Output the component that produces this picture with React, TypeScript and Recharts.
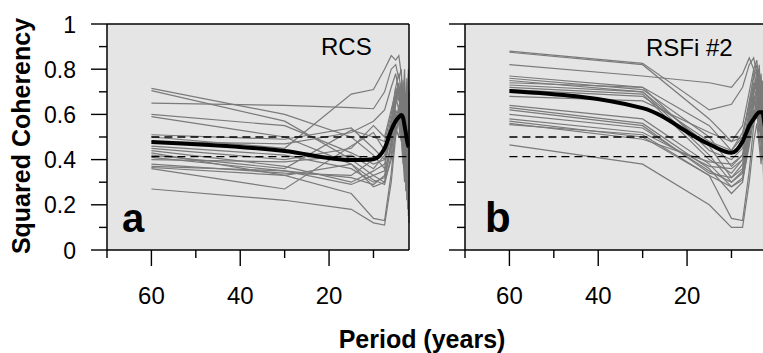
import React from 'react';
import { LineChart, Line, XAxis, YAxis, CartesianGrid } from 'recharts';

// spectral periods (years) at which coherency is estimated
const periods = [60, 30, 15, 10, 7.5, 6, 5, 4.29, 3.75, 3.33, 3, 2.73, 2.5, 2.31, 2.14, 2];

const xTicks = [70, 60, 50, 40, 30, 20, 10];
const xLabels = [60, 40, 20];
const xDomain = [2, 70];
const yTicks = [0, 0.1, 0.2, 0.3, 0.4, 0.5, 0.6, 0.7, 0.8, 0.9, 1];
const yLabels = [0, 0.2, 0.4, 0.6, 0.8, 1];
const yDomain = [0, 1];

// significance levels (dashed)
const sigHigh = 0.5;
const sigLow = 0.413;

// panel a: RCS, individual series
const rcsSeries = [
  [0.715, 0.6, 0.5, 0.42, 0.36, 0.55, 0.72, 0.78, 0.7, 0.55, 0.62, 0.4, 0.7, 0.35, 0.6, 0.45],
  [0.705, 0.57, 0.4, 0.33, 0.3, 0.48, 0.66, 0.73, 0.64, 0.72, 0.5, 0.66, 0.3, 0.58, 0.42, 0.52],
  [0.65, 0.64, 0.63, 0.625, 0.7, 0.8, 0.82, 0.76, 0.8, 0.62, 0.74, 0.5, 0.76, 0.55, 0.8, 0.6],
  [0.6, 0.55, 0.43, 0.38, 0.4, 0.52, 0.64, 0.7, 0.66, 0.5, 0.68, 0.38, 0.58, 0.72, 0.4, 0.55],
  [0.59, 0.5, 0.38, 0.31, 0.29, 0.42, 0.58, 0.62, 0.72, 0.6, 0.45, 0.64, 0.35, 0.48, 0.7, 0.38],
  [0.51, 0.49, 0.54, 0.45, 0.4, 0.55, 0.68, 0.74, 0.6, 0.7, 0.52, 0.3, 0.62, 0.44, 0.25, 0.5],
  [0.5, 0.45, 0.69, 0.71, 0.8, 0.86, 0.84, 0.86, 0.78, 0.66, 0.8, 0.58, 0.4, 0.7, 0.52, 0.65],
  [0.48, 0.47, 0.52, 0.57, 0.62, 0.72, 0.78, 0.7, 0.62, 0.75, 0.56, 0.68, 0.48, 0.6, 0.78, 0.44],
  [0.46, 0.42, 0.36, 0.3, 0.32, 0.45, 0.55, 0.62, 0.56, 0.42, 0.6, 0.36, 0.52, 0.28, 0.5, 0.35],
  [0.45, 0.4, 0.45, 0.55, 0.5, 0.62, 0.7, 0.66, 0.74, 0.58, 0.46, 0.7, 0.55, 0.38, 0.62, 0.48],
  [0.44, 0.37, 0.3, 0.35, 0.38, 0.5, 0.6, 0.55, 0.48, 0.62, 0.4, 0.55, 0.3, 0.52, 0.35, 0.58],
  [0.43, 0.33, 0.38, 0.28, 0.3, 0.4, 0.52, 0.6, 0.5, 0.38, 0.56, 0.42, 0.66, 0.4, 0.2, 0.45],
  [0.42, 0.36, 0.53, 0.5, 0.48, 0.6, 0.72, 0.68, 0.58, 0.7, 0.5, 0.62, 0.44, 0.68, 0.55, 0.7],
  [0.41, 0.35, 0.32, 0.29, 0.33, 0.48, 0.62, 0.58, 0.66, 0.52, 0.36, 0.6, 0.45, 0.3, 0.58, 0.32],
  [0.4, 0.39, 0.42, 0.36, 0.42, 0.56, 0.66, 0.72, 0.62, 0.48, 0.64, 0.4, 0.68, 0.5, 0.38, 0.62],
  [0.38, 0.34, 0.33, 0.4, 0.45, 0.58, 0.68, 0.62, 0.7, 0.56, 0.44, 0.58, 0.36, 0.64, 0.46, 0.28],
  [0.37, 0.35, 0.29, 0.33, 0.35, 0.46, 0.56, 0.64, 0.54, 0.66, 0.48, 0.32, 0.56, 0.42, 0.65, 0.4],
  [0.36, 0.27, 0.46, 0.52, 0.44, 0.52, 0.6, 0.56, 0.68, 0.46, 0.62, 0.48, 0.26, 0.56, 0.34, 0.54],
  [0.27, 0.22, 0.18, 0.12, 0.11, 0.3, 0.5, 0.58, 0.52, 0.4, 0.3, 0.52, 0.22, 0.45, 0.15, 0.38],
  [0.365, 0.33, 0.25, 0.14, 0.13, 0.34, 0.54, 0.5, 0.6, 0.44, 0.58, 0.26, 0.5, 0.18, 0.42, 0.12],
];
const rcsMean = [0.478, 0.438, 0.398, 0.402, 0.45, 0.53, 0.57, 0.588, 0.597, 0.585, 0.55, 0.52, 0.49, 0.47, 0.46, 0.458];

// panel b: RSFi #2, individual series
const rsfiSeries = [
  [0.88, 0.826, 0.62, 0.645, 0.72, 0.82, 0.85, 0.78, 0.7, 0.6, 0.75, 0.55, 0.68, 0.5, 0.72, 0.58],
  [0.875, 0.82, 0.58, 0.48, 0.55, 0.7, 0.8, 0.84, 0.72, 0.78, 0.62, 0.7, 0.45, 0.66, 0.52, 0.6],
  [0.82, 0.77, 0.74, 0.72, 0.78, 0.85, 0.8, 0.7, 0.82, 0.65, 0.72, 0.48, 0.7, 0.56, 0.4, 0.62],
  [0.77, 0.72, 0.55, 0.44, 0.5, 0.66, 0.76, 0.8, 0.68, 0.58, 0.7, 0.62, 0.5, 0.74, 0.55, 0.45],
  [0.76, 0.71, 0.5, 0.37, 0.42, 0.6, 0.72, 0.66, 0.76, 0.6, 0.5, 0.68, 0.4, 0.6, 0.7, 0.5],
  [0.75, 0.7, 0.46, 0.32, 0.38, 0.56, 0.7, 0.74, 0.62, 0.72, 0.55, 0.42, 0.65, 0.48, 0.58, 0.35],
  [0.74, 0.72, 0.44, 0.4, 0.45, 0.62, 0.74, 0.7, 0.8, 0.66, 0.48, 0.72, 0.52, 0.38, 0.64, 0.55],
  [0.73, 0.7, 0.42, 0.3, 0.35, 0.52, 0.66, 0.72, 0.6, 0.5, 0.66, 0.4, 0.62, 0.45, 0.3, 0.52],
  [0.72, 0.69, 0.4, 0.34, 0.4, 0.58, 0.68, 0.64, 0.72, 0.56, 0.6, 0.5, 0.35, 0.58, 0.44, 0.66],
  [0.71, 0.68, 0.48, 0.44, 0.52, 0.64, 0.78, 0.82, 0.74, 0.64, 0.52, 0.66, 0.48, 0.7, 0.36, 0.48],
  [0.64, 0.58, 0.38, 0.28, 0.32, 0.5, 0.64, 0.7, 0.62, 0.72, 0.5, 0.38, 0.6, 0.3, 0.55, 0.42],
  [0.63, 0.56, 0.36, 0.25, 0.3, 0.48, 0.62, 0.58, 0.66, 0.52, 0.4, 0.58, 0.32, 0.5, 0.25, 0.4],
  [0.62, 0.55, 0.34, 0.32, 0.36, 0.54, 0.7, 0.76, 0.64, 0.54, 0.68, 0.45, 0.56, 0.4, 0.62, 0.3],
  [0.6, 0.54, 0.35, 0.3, 0.34, 0.5, 0.6, 0.66, 0.58, 0.46, 0.62, 0.52, 0.28, 0.54, 0.38, 0.5],
  [0.58, 0.52, 0.37, 0.36, 0.4, 0.55, 0.68, 0.62, 0.7, 0.58, 0.44, 0.64, 0.42, 0.24, 0.5, 0.36],
  [0.57, 0.5, 0.33, 0.28, 0.31, 0.46, 0.58, 0.64, 0.56, 0.68, 0.46, 0.56, 0.38, 0.6, 0.3, 0.44],
  [0.56, 0.49, 0.39, 0.38, 0.42, 0.58, 0.66, 0.6, 0.52, 0.62, 0.72, 0.46, 0.64, 0.44, 0.56, 0.25],
  [0.555, 0.51, 0.33, 0.14, 0.13, 0.35, 0.55, 0.62, 0.5, 0.42, 0.58, 0.3, 0.48, 0.2, 0.45, 0.32],
  [0.465, 0.38, 0.2, 0.1, 0.1, 0.3, 0.48, 0.56, 0.46, 0.38, 0.52, 0.28, 0.42, 0.16, 0.4, 0.22],
  [0.68, 0.66, 0.52, 0.48, 0.5, 0.64, 0.72, 0.78, 0.7, 0.6, 0.5, 0.6, 0.4, 0.62, 0.46, 0.55],
];
const rsfiMean = [0.704, 0.628, 0.468, 0.43, 0.48, 0.55, 0.58, 0.6, 0.61, 0.61, 0.61, 0.58, 0.55, 0.54, 0.52, 0.5];

const FONT = '"Liberation Sans", Arial, Helvetica, sans-serif';
const frameLine = { stroke: '#000', strokeWidth: 1.5 };

const XTick = (props: any) => {
  const { x, y, payload } = props;
  const major = xLabels.includes(payload.value);
  return (
    <g>
      <line x1={x} x2={x} y1={y} y2={y + (major ? 16 : 8)} stroke="#000" strokeWidth={1.4} />
      {major && (
        <text x={x} y={y + 54} textAnchor="middle" fontSize={24} fill="#000">
          {payload.value}
        </text>
      )}
    </g>
  );
};

const makeYTick = (showLabels: boolean) => (props: any) => {
  const { x, y, payload } = props;
  const major = yLabels.includes(payload.value);
  return (
    <g>
      <line x1={x} x2={x - (major ? 16 : 8)} y1={y} y2={y} stroke="#000" strokeWidth={1.4} />
      {showLabels && major && (
        <text x={x - 31} y={y + 8.5} textAnchor="end" fontSize={23} fill="#000">
          {String(payload.value)}
        </text>
      )}
    </g>
  );
};

interface PanelProps {
  series: number[][];
  mean: number[];
  width: number;
  yAxisWidth: number;
  right: number;
  showYLabels: boolean;
}

const Panel: React.FC<PanelProps> = ({ series, mean, width, yAxisWidth, right, showYLabels }) => {
  const last = periods.length - 1;
  const rows: Record<string, number>[] = [
    // left end of the frame's top edge
    { period: xDomain[1], frameTop: yDomain[1] },
    ...periods.map((p, i) => {
      const row: Record<string, number> = {
        period: p,
        mean: mean[i],
        sigHi: sigHigh,
        sigLo: sigLow,
        frameTop: yDomain[1],
      };
      if (i === last) row.frameRight = yDomain[0];
      series.forEach((s, k) => {
        row[`s${k}`] = s[i];
      });
      return row;
    }),
    // top end of the frame's right edge
    { period: xDomain[0], frameRight: yDomain[1] },
  ];

  return (
    <LineChart width={width} height={353} data={rows} margin={{ top: 24, right, bottom: 73, left: 0 }}>
      <CartesianGrid fill="#e5e5e5" stroke="none" />
      <XAxis
        dataKey="period"
        type="number"
        domain={xDomain}
        reversed
        ticks={xTicks}
        interval={0}
        tickSize={0}
        tickMargin={0}
        tickLine={false}
        axisLine={frameLine}
        tick={<XTick />}
        height={30}
      />
      <YAxis
        type="number"
        domain={yDomain}
        ticks={yTicks}
        interval={0}
        tickSize={0}
        tickMargin={0}
        tickLine={false}
        axisLine={frameLine}
        tick={makeYTick(showYLabels)}
        width={yAxisWidth}
      />
      {series.map((_, k) => (
        <Line
          key={k}
          dataKey={`s${k}`}
          stroke="#7a7a7a"
          strokeWidth={1.2}
          dot={false}
          activeDot={false}
          isAnimationActive={false}
        />
      ))}
      <Line dataKey="sigHi" stroke="#000" strokeWidth={1.3} strokeDasharray="8 5" dot={false} activeDot={false} isAnimationActive={false} />
      <Line dataKey="sigLo" stroke="#000" strokeWidth={1.3} strokeDasharray="8 5" dot={false} activeDot={false} isAnimationActive={false} />
      <Line dataKey="mean" type="monotone" stroke="#000" strokeWidth={4} dot={false} activeDot={false} isAnimationActive={false} />
      <Line dataKey="frameTop" stroke="#000" strokeWidth={1.5} dot={false} activeDot={false} isAnimationActive={false} />
      <Line dataKey="frameRight" stroke="#000" strokeWidth={1.5} dot={false} activeDot={false} isAnimationActive={false} />
    </LineChart>
  );
};

export default function App() {
  return (
    <div
      style={{
        position: 'absolute',
        left: 0,
        top: 0,
        width: 763,
        height: 353,
        overflow: 'hidden',
        background: '#fff',
        fontFamily: FONT,
      }}
    >
      <div style={{ position: 'absolute', left: 0, top: 0 }}>
        <Panel series={rcsSeries} mean={rcsMean} width={420} yAxisWidth={107} right={11} showYLabels />
      </div>
      <div style={{ position: 'absolute', left: 440, top: 0 }}>
        <Panel series={rsfiSeries} mean={rsfiMean} width={330} yAxisWidth={25} right={3} showYLabels={false} />
      </div>
      <svg width={763} height={353} style={{ position: 'absolute', left: 0, top: 0, pointerEvents: 'none' }}>
        <text x={30} y={136} transform="rotate(-90 30 136)" textAnchor="middle" fontSize={25} fontWeight="bold" fill="#000">
          Squared Coherency
        </text>
        <text x={422} y={348} textAnchor="middle" fontSize={25} fontWeight="bold" fill="#000">
          Period (years)
        </text>
        <text x={122} y={232} fontSize={40} fontWeight="bold" fill="#000">a</text>
        <text x={485} y={232} fontSize={42} fontWeight="bold" fill="#000">b</text>
        <text x={321} y={55} fontSize={24} fill="#000">RCS</text>
        <text x={646} y={56} fontSize={24} fill="#000">RSFi #2</text>
      </svg>
    </div>
  );
}
